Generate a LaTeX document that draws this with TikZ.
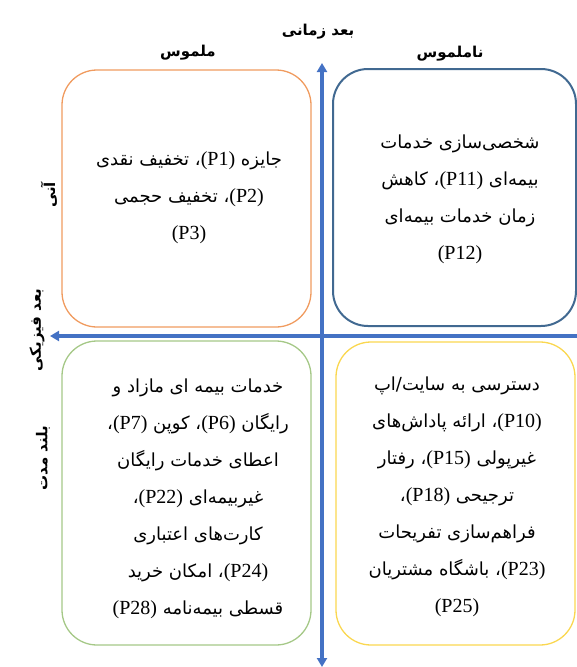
\documentclass[tikz,border=0pt]{standalone}
\usepackage{fontspec}
\TeXXeTstate=1
\newfontfamily\fa[Script=Arabic]{DejaVu Sans}
\newfontfamily\lat{Liberation Serif}
\usetikzlibrary{arrows.meta}
\definecolor{axisblue}{RGB}{68,114,196}
\definecolor{boxorange}{RGB}{240,155,95}
\definecolor{boxblue}{RGB}{65,105,145}
\definecolor{boxgreen}{RGB}{165,200,135}
\definecolor{boxyellow}{RGB}{250,215,80}
\newcommand\pcode[1]{\beginL{\lat\fontsize{20}{37}\selectfont(P#1)}\endL}
\newcommand\rl[1]{\beginR #1\endR}
\begin{document}
\begin{tikzpicture}[x=1pt,y=-1pt,
  quad/.style={draw, rounded corners=35pt, line width=1.3pt, inner sep=0pt},
  boxtext/.style={align=center, font=\fa\fontsize{18}{37}\selectfont, inner sep=0pt},
  heading/.style={font=\fa\bfseries\fontsize{15}{18}\selectfont, inner sep=0pt},
  axis/.style={draw=axisblue, line width=3.2pt}]
\useasboundingbox (0,0) rectangle (577,667);
% boxes
\node[quad, draw=boxorange, minimum width=249pt, minimum height=257pt] (tl) at (186.5,198.5) {};
\node[quad, draw=boxblue, line width=2pt, minimum width=243pt, minimum height=257pt] (tr) at (454.5,197.5) {};
\node[quad, draw=boxgreen, minimum width=249pt, minimum height=304pt] (bl) at (186.5,493) {};
\node[quad, draw=boxyellow, minimum width=239pt, minimum height=303pt] (br) at (455.5,493.5) {};
% axes
\coordinate (htip) at (50,336);
\coordinate (hend) at (577,336);
\coordinate (vtop) at (322,63);
\coordinate (vbot) at (322,667);
\draw[axis, -{Triangle[width=10pt,length=9pt]}] (hend) -- (htip);
\draw[axis, {Triangle[width=10pt,length=9pt]}-{Triangle[width=10pt,length=9pt]}] (vbot) -- (vtop);
% headings
\node[heading] (timeaxis) at (318,32) {\rl{بعد زمانی}};
\node[heading] (tangible) at (188,53) {\rl{ملموس}};
\node[heading] (intangible) at (450,54) {\rl{ناملموس}};
\node[heading, rotate=90] (instant) at (49,195) {\rl{آنی}};
\node[heading, rotate=90] (physaxis) at (37,330) {\rl{بعد فیزیکی}};
\node[heading, rotate=90] (longterm) at (43,458) {\rl{بلند مدت}};
% box texts
\node[boxtext] (tltext) at (189,198) {%
\rl{جایزه \pcode{1}، تخفیف نقدی}\\
\rl{\pcode{2}، تخفیف حجمی}\\
\rl{\pcode{3}}};
\node[boxtext] (trtext) at (460,199) {%
\rl{شخصی‌سازی خدمات}\\
\rl{بیمه‌ای \pcode{11}، کاهش}\\
\rl{زمان خدمات بیمه‌ای}\\
\rl{\pcode{12}}};
\node[boxtext] (bltext) at (198,499) {%
\rl{خدمات بیمه ای مازاد و}\\
\rl{رایگان \pcode{6}، کوپن \pcode{7}،}\\
\rl{اعطای خدمات رایگان}\\
\rl{غیربیمه‌ای \pcode{22}،}\\
\rl{کارت‌های اعتباری}\\
\rl{\pcode{24}، امکان خرید}\\
\rl{قسطی بیمه‌نامه \pcode{28}}};
\node[boxtext] (brtext) at (457,497) {%
\rl{دسترسی به سایت/اپ}\\
\rl{\pcode{10}، ارائه پاداش‌های}\\
\rl{غیرپولی \pcode{15}، رفتار}\\
\rl{ترجیحی \pcode{18}،}\\
\rl{فراهم‌سازی تفریحات}\\
\rl{\pcode{23}، باشگاه مشتریان}\\
\rl{\pcode{25}}};
\end{tikzpicture}
\end{document}
